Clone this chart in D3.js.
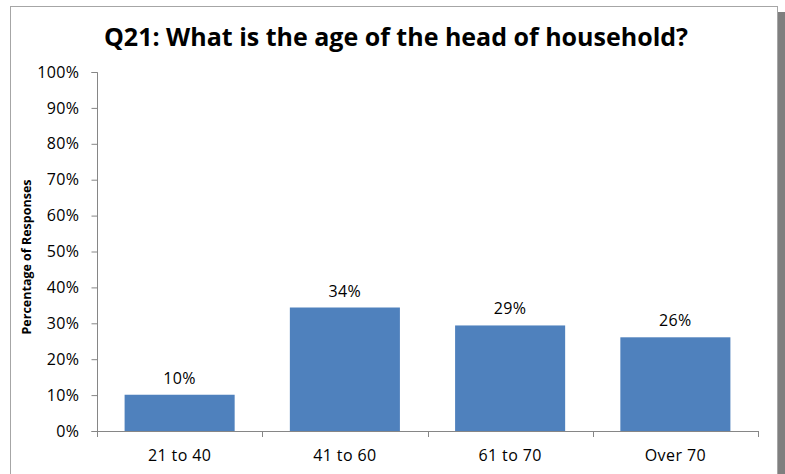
<!DOCTYPE html>
<html>
<head>
<meta charset="utf-8">
<script src="https://cdn.jsdelivr.net/npm/d3@7"></script>
<style>
  body { margin: 0; background: #fff; }
  text { font-family: "Open Sans", sans-serif; fill: #000; }
</style>
</head>
<body>
<div id="app"></div>
<script>
var categories = ['21 to 40', '41 to 60', '61 to 70', 'Over 70'];
var values = [10.1, 34.4, 29.4, 26.1];
var valueLabels = ['10%', '34%', '29%', '26%'];
var yTicks = [0, 10, 20, 30, 40, 50, 60, 70, 80, 90, 100];

var svg = d3.select('#app')
  .append('svg')
    .attr('width', 785)
    .attr('height', 474);

// chart frame with shadow
svg.append('rect')
    .attr('x', 15).attr('y', 12)
    .attr('width', 770).attr('height', 480)
    .attr('fill', '#7f7f7f');
svg.append('rect')
    .attr('x', 10.5).attr('y', 6.5)
    .attr('width', 767).attr('height', 480)
    .attr('fill', '#fff')
    .attr('stroke', '#a6a6a6');

var plotLeft = 97, plotRight = 758, plotTop = 72, plotBottom = 431;

var x = d3.scaleBand()
    .domain(categories)
    .range([plotLeft, plotRight])
    .paddingInner(0.334)
    .paddingOuter(0.167);

var y = d3.scaleLinear()
    .domain([0, 100])
    .range([plotBottom, plotTop]);

// y axis
var yAxis = svg.append('g')
    .attr('transform', 'translate(' + (plotLeft + 0.5) + ',0)')
    .call(d3.axisLeft(y).tickValues(yTicks).tickFormat(function(d){ return d + '%'; }).tickSize(6).tickPadding(12));
yAxis.selectAll('line, path').attr('stroke', '#868686');
yAxis.selectAll('text').style('font-size', '16px').style('letter-spacing', '0.4px').attr('fill', '#000');
yAxis.select('.domain').attr('d', 'M-6,' + (plotTop + 0.5) + 'H0V' + (plotBottom + 0.5) + 'H-6');

// bars
svg.append('g')
    .selectAll('rect')
    .data(values)
  .enter().append('rect')
    .attr('x', function(d, i){ return x(categories[i]); })
    .attr('y', function(d){ return y(d); })
    .attr('width', x.bandwidth())
    .attr('height', function(d){ return y(0) - y(d); })
    .attr('fill', '#4f81bd');

// value labels
svg.append('g')
    .selectAll('text')
    .data(values)
  .enter().append('text')
    .attr('x', function(d, i){ return x(categories[i]) + x.bandwidth() / 2; })
    .attr('y', function(d){ return y(d) - 11; })
    .attr('text-anchor', 'middle')
    .style('font-size', '16px')
    .style('letter-spacing', '0.4px')
    .text(function(d, i){ return valueLabels[i]; });

// x axis
var step = x.step();
var xAxis = svg.append('g');
xAxis.append('line')
    .attr('x1', plotLeft).attr('x2', plotRight)
    .attr('y1', plotBottom + 0.5).attr('y2', plotBottom + 0.5)
    .attr('stroke', '#868686');
xAxis.selectAll('line.tick')
    .data(d3.range(categories.length + 1))
  .enter().append('line')
    .attr('class', 'tick')
    .attr('x1', function(i){ return Math.round(plotLeft + i * step) + 0.5; })
    .attr('x2', function(i){ return Math.round(plotLeft + i * step) + 0.5; })
    .attr('y1', plotBottom)
    .attr('y2', plotBottom + 6)
    .attr('stroke', '#868686');
xAxis.selectAll('text')
    .data(categories)
  .enter().append('text')
    .attr('x', function(d){ return x(d) + x.bandwidth() / 2; })
    .attr('y', 461)
    .attr('text-anchor', 'middle')
    .style('font-size', '16px')
    .style('letter-spacing', '0.4px')
    .text(function(d){ return d; });

// titles
svg.append('text')
    .attr('x', 396)
    .attr('y', 46)
    .attr('text-anchor', 'middle')
    .style('font-size', '25px')
    .style('font-weight', 'bold')
    .text('Q21: What is the age of the head of household?');

svg.append('text')
    .attr('transform', 'translate(31,257) rotate(-90)')
    .attr('text-anchor', 'middle')
    .style('font-size', '12.5px')
    .style('font-weight', 'bold')
    .text('Percentage of Responses');
</script>
</body>
</html>
